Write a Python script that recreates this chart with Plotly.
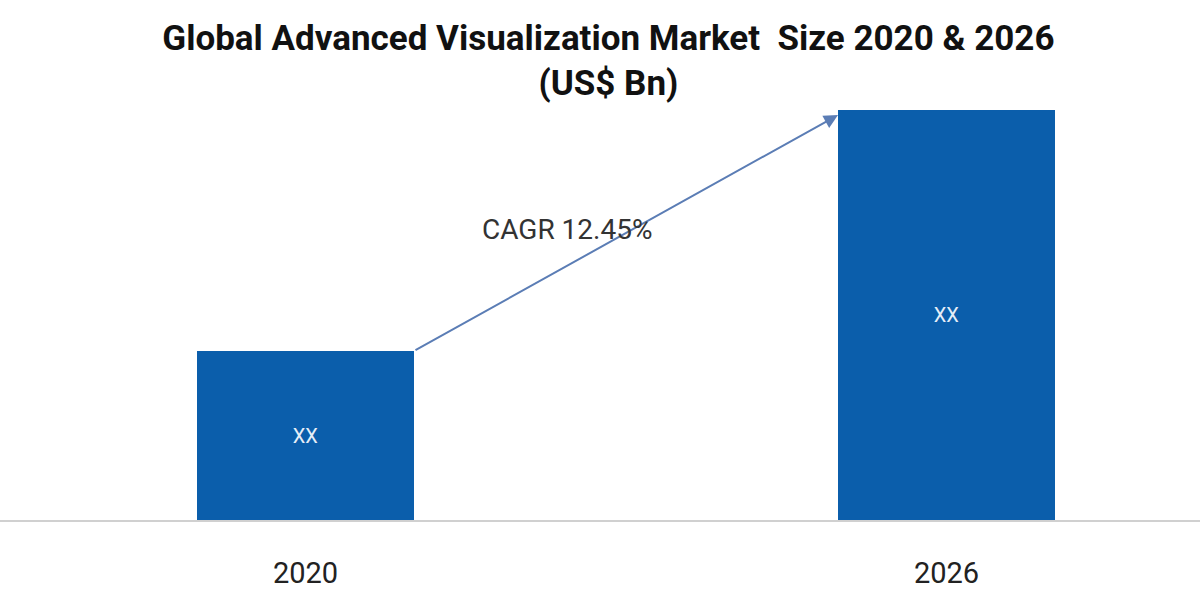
import plotly.graph_objects as go

years = ["2020", "2026"]
values = [1.69, 4.10]
bar_labels = ["XX", "XX"]
cagr_text = "CAGR 12.45%"
title_text = "Global Advanced Visualization Market  Size 2020 & 2026<br>(US$ Bn)"

xpos = list(range(len(years)))
bw = 0.3385
FONT = "Roboto, 'Open Sans', sans-serif"

fig = go.Figure()
fig.add_trace(go.Bar(
    x=xpos, y=values, width=bw,
    text=bar_labels, textposition="inside", insidetextanchor="middle",
    textfont=dict(color="#e6eef8", size=20, family=FONT),
    marker=dict(color="#0b5eab", line=dict(width=0)),
    hoverinfo="skip",
))

# CAGR arrow from top-right of first bar to top-left of second bar
fig.add_annotation(
    x=xpos[1] - bw / 2, y=values[1] - 0.05,
    ax=xpos[0] + bw / 2, ay=values[0],
    xref="x", yref="y", axref="x", ayref="y",
    showarrow=True, arrowhead=2, arrowsize=1.4, arrowwidth=2,
    arrowcolor="#5b7db5", text="",
)
fig.add_annotation(
    x=(xpos[0] + xpos[1]) / 2 - 0.092, y=2.91,
    text=cagr_text, showarrow=False,
    font=dict(size=28, color="#333333", family=FONT),
)

fig.update_layout(
    width=1200, height=600,
    paper_bgcolor="white", plot_bgcolor="white",
    margin=dict(l=0, r=0, t=100, b=80),
    showlegend=False,
    bargap=0,
    title=dict(
        text="<b>" + title_text + "</b>",
        x=0.507, xanchor="center", yref="container", y=0.917, yanchor="middle",
        font=dict(size=35, color="#111111", family=FONT),
    ),
    xaxis=dict(
        range=[-0.4766, 1.3955],
        tickmode="array", tickvals=xpos, ticktext=years,
        tickfont=dict(size=29, color="#222222", family=FONT),
        showline=True, linecolor="#d0d0d0", linewidth=2,
        showgrid=False, zeroline=False, ticks="",
        ticklabelstandoff=26,
    ),
    yaxis=dict(range=[0, 4.2], visible=False, showgrid=False, zeroline=False),
)

fig.write_html(
    "out.html",
    config={"displayModeBar": False},
    post_script="document.body.style.margin='0';document.body.style.overflow='hidden';",
)
